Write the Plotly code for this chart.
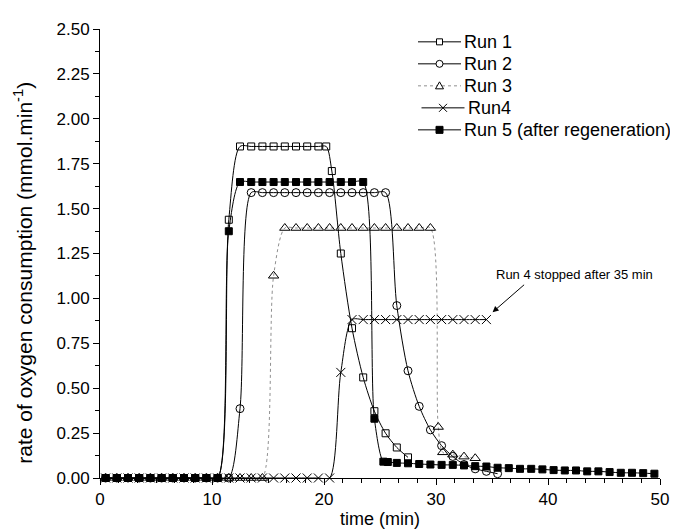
import plotly.graph_objects as go

# ---- data (time in min, rate in mmol/min) ----
run1_t = [0.5, 1.5, 2.5, 3.5, 4.5, 5.5, 6.5, 7.5, 8.5, 9.5, 10.5, 11.5,
          12.5, 13.5, 14.5, 15.5, 16.5, 17.5, 18.5, 19.5, 20.2, 20.7,
          21.5, 22.5, 23.5, 24.5, 25.5, 26.5, 27.5]
run1_v = [0, 0, 0, 0, 0, 0, 0, 0, 0, 0, 0, 1.438,
          1.846, 1.846, 1.846, 1.846, 1.846, 1.846, 1.846, 1.846, 1.846, 1.709,
          1.25, 0.834, 0.56, 0.372, 0.249, 0.17, 0.115]

run2_t = [0.5, 1.5, 2.5, 3.5, 4.5, 5.5, 6.5, 7.5, 8.5, 9.5, 10.5, 11.5,
          12.5, 13.5, 14.5, 15.5, 16.5, 17.5, 18.5, 19.5, 20.5, 21.5, 22.5,
          23.5, 24.5, 25.5, 26.5, 27.5, 28.5, 29.5, 30.5, 31.5, 32.5, 33.5,
          34.5, 35.5]
run2_v = [0, 0, 0, 0, 0, 0, 0, 0, 0, 0, 0, 0,
          0.386, 1.589, 1.589, 1.589, 1.589, 1.589, 1.589, 1.589, 1.589, 1.589,
          1.589, 1.589, 1.589, 1.589, 0.96, 0.597, 0.399, 0.268, 0.18, 0.12,
          0.075, 0.051, 0.037, 0.024]

run3_t = [0.5, 1.5, 2.5, 3.5, 4.5, 5.5, 6.5, 7.5, 8.5, 9.5, 10.5, 11.5,
          12.5, 13.5, 14.5, 15.5, 16.5, 17.5, 18.5, 19.5, 20.5, 21.5, 22.5,
          23.5, 24.5, 25.5, 26.5, 27.5, 28.5, 29.5, 30.2, 30.6, 31.5, 32.5,
          33.5]
run3_v = [0, 0, 0, 0, 0, 0, 0, 0, 0, 0, 0, 0,
          0, 0, 0, 1.126, 1.392, 1.392, 1.392, 1.392, 1.392, 1.392, 1.392,
          1.392, 1.392, 1.392, 1.392, 1.392, 1.392, 1.392, 0.284, 0.143, 0.13,
          0.119, 0.11]

run4_t = [0.5, 1.5, 2.5, 3.5, 4.5, 5.5, 6.5, 7.5, 8.5, 9.5, 10.5, 11.5,
          12.5, 13.5, 14.5, 15.5, 16.5, 17.5, 18.5, 19.5, 20.5, 21.5, 22.5,
          23.5, 24.5, 25.5, 26.5, 27.5, 28.5, 29.5, 30.5, 31.5, 32.5, 33.5,
          34.5]
run4_v = [0, 0, 0, 0, 0, 0, 0, 0, 0, 0, 0, 0,
          0, 0, 0, 0, 0, 0, 0, 0, 0, 0.588, 0.882,
          0.882, 0.882, 0.882, 0.882, 0.882, 0.882, 0.882, 0.882, 0.882, 0.882,
          0.882, 0.882]

run5_t = [0.5, 1.5, 2.5, 3.5, 4.5, 5.5, 6.5, 7.5, 8.5, 9.5, 10.5, 11.5,
          12.5, 13.5, 14.5, 15.5, 16.5, 17.5, 18.5, 19.5, 20.5, 21.5, 22.5,
          23.5, 24.5, 25.3, 25.7, 26.5, 27.5, 28.5, 29.5, 30.5, 31.5, 32.5,
          33.5, 34.5, 35.5, 36.5, 37.5, 38.5, 39.5, 40.5, 41.5, 42.5, 43.5,
          44.5, 45.5, 46.5, 47.5, 48.5, 49.5]
run5_v = [0, 0, 0, 0, 0, 0, 0, 0, 0, 0, 0, 1.374,
          1.648, 1.648, 1.648, 1.648, 1.648, 1.648, 1.648, 1.648, 1.648, 1.648,
          1.648, 1.648, 0.33, 0.091, 0.089, 0.084, 0.082, 0.078, 0.075, 0.073,
          0.073, 0.070, 0.066, 0.064, 0.057, 0.055, 0.051, 0.051, 0.048, 0.044,
          0.042, 0.042, 0.037, 0.037, 0.033, 0.029, 0.029, 0.027, 0.024]

series_names = ["Run 1", "Run 2", "Run 3", "Run4", "Run 5 (after regeneration)"]
x_ticks = [0, 10, 20, 30, 40, 50]
y_ticks = [0, 0.25, 0.5, 0.75, 1.0, 1.25, 1.5, 1.75, 2.0, 2.25, 2.5]

FONT = "Liberation Sans, Arial, sans-serif"
GRAY = "#909090"

# plot-area geometry (px)
W, H = 678, 529
ML, MR, MT, MB = 92, 26, 21, 53
PW, PH = W - ML - MR, H - MT - MB

fig = go.Figure()

styles = [
    dict(symbol="square-open", size=7, dash="solid", color="black"),
    dict(symbol="circle-open", size=8, dash="solid", color="black"),
    dict(symbol="triangle-up-open", size=9, dash="dot", color=GRAY),
    dict(symbol="x-thin-open", size=9, dash="solid", color="black"),
    dict(symbol="square", size=7, dash="solid", color="black"),
]
data = [(run1_t, run1_v), (run2_t, run2_v), (run3_t, run3_v),
        (run4_t, run4_v), (run5_t, run5_v)]

for (t, v), name, st in zip(data, series_names, styles):
    fig.add_trace(go.Scatter(
        x=t, y=v, name=name, mode="lines+markers", showlegend=False,
        line=dict(color=st["color"], width=1, dash=st["dash"],
                  shape="spline", smoothing=0.8),
        marker=dict(symbol=st["symbol"], size=st["size"], color="black",
                    line=dict(color="black", width=1)),
        cliponaxis=False,
    ))

# ---- hand-made legend (layout decoration) ----
def px_x(px):
    return (px - ML) / PW

def px_y(py):
    return (H - MB - py) / PH

leg_rows = [34, 56.3, 78.6, 100.9, 123.2]
leg_shift = [0, 0, 0, 3.5, 0]
for i, name in enumerate(series_names):
    py = leg_rows[i]
    dx = leg_shift[i]
    st = styles[i]
    fig.add_shape(type="line", xref="paper", yref="paper",
                  x0=px_x(410 + dx), x1=px_x(453 + dx), y0=px_y(py), y1=px_y(py),
                  line=dict(color=st["color"], width=1, dash=st["dash"]))
    cx, cy = px_x(431.5 + dx), px_y(py)
    common = dict(xref="paper", yref="paper", xsizemode="pixel", ysizemode="pixel",
                  xanchor=cx, yanchor=cy)
    if i == 0:
        fig.add_shape(type="rect", x0=-3, x1=3, y0=-3, y1=3,
                      fillcolor="white", line=dict(color="black", width=1), **common)
    elif i == 1:
        fig.add_shape(type="circle", x0=-3.5, x1=3.5, y0=-3.5, y1=3.5,
                      fillcolor="white", line=dict(color="black", width=1), **common)
    elif i == 2:
        fig.add_shape(type="path", path="M-4,-3 L4,-3 L0,4 Z",
                      fillcolor="white", line=dict(color="black", width=1), **common)
    elif i == 3:
        fig.add_shape(type="path", path="M-4,-4 L4,4 M-4,4 L4,-4",
                      line=dict(color="black", width=1), **common)
    else:
        fig.add_shape(type="rect", x0=-3.5, x1=3.5, y0=-3.5, y1=3.5,
                      fillcolor="black", line=dict(color="black", width=1), **common)
    fig.add_annotation(xref="paper", yref="paper", x=px_x(454 + dx), y=px_y(py),
                       xanchor="left", yanchor="middle", text=name,
                       showarrow=False, font=dict(family=FONT, size=18, color="black"))

# ---- annotation ----
fig.add_annotation(x=35.05, y=0.923, ax=38.0, ay=1.083, xref="x", yref="y",
                   axref="x", ayref="y", text="", showarrow=True,
                   arrowhead=2, arrowsize=1.2, arrowwidth=1, arrowcolor="black")
fig.add_annotation(x=35.2, y=1.134, xref="x", yref="y", xanchor="left",
                   text="Run 4 stopped after 35 min", showarrow=False,
                   font=dict(family=FONT, size=13, color="black"))

# y-axis title
fig.add_annotation(xref="paper", yref="paper", x=px_x(15), y=px_y(268),
                   text="rate of oxygen consumption (mmol.min<sup>-1</sup>)",
                   textangle=-90, showarrow=False, xanchor="center", yanchor="middle",
                   font=dict(family=FONT, size=21, color="black"))

fig.update_layout(
    width=W, height=H,
    margin=dict(l=ML, r=MR, t=MT, b=MB),
    paper_bgcolor="white", plot_bgcolor="white",
    font=dict(family=FONT, size=17, color="black"),
    showlegend=False,
)
fig.update_xaxes(
    range=[0, 50], tickvals=x_ticks, showline=True, linecolor="black",
    linewidth=1, ticks="outside", ticklen=6, tickcolor="black",
    showgrid=False, zeroline=False,
    minor=dict(tick0=0, dtick=10 / 6, ticks="outside", ticklen=4, tickcolor="black"),
    title=dict(text="time (min)", font=dict(size=18), standoff=3),
    tickfont=dict(size=17),
)
fig.update_yaxes(
    range=[0, 2.5], tickvals=y_ticks, tickformat=".2f", showline=True,
    linecolor="black", linewidth=1, ticks="outside", ticklen=6,
    tickcolor="black", showgrid=False, zeroline=False,
    minor=dict(tick0=0, dtick=0.125, ticks="outside", ticklen=4, tickcolor="black"),
    tickfont=dict(size=17),
)

fig.write_html("out.html")
